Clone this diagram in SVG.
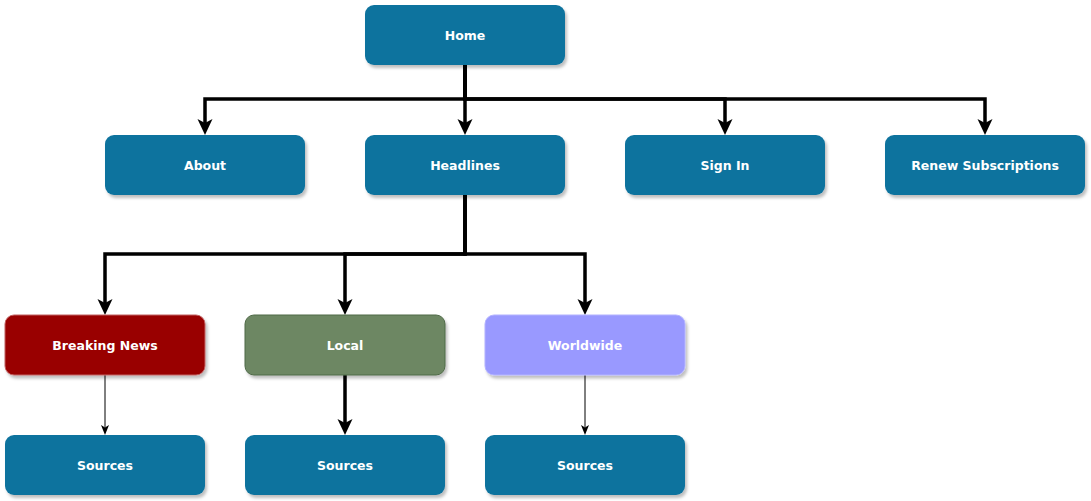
<svg xmlns="http://www.w3.org/2000/svg" width="1091" height="501" viewBox="0 0 1091 501">
<defs>
<filter id="sh" x="-10%" y="-20%" width="130%" height="150%">
<feDropShadow dx="2" dy="3" stdDeviation="1.5" flood-color="#000" flood-opacity="0.25"/>
</filter>
<marker id="ab" viewBox="0 0 16 18" refX="4" refY="9" markerWidth="16" markerHeight="18" orient="auto" markerUnits="userSpaceOnUse">
<path d="M0,1.5 L16,9 L0,16.5 L4,9 Z" fill="#000"/>
</marker>
<marker id="as" viewBox="0 0 10 10" refX="2.5" refY="5" markerWidth="10" markerHeight="10" orient="auto" markerUnits="userSpaceOnUse">
<path d="M0,1 L10,5 L0,9 L2.5,5 Z" fill="#000"/>
</marker>
</defs>
<style>
.n rect{filter:url(#sh);}
.blue{fill:#10739E;}
.t{font-family:"DejaVu Sans",sans-serif;font-weight:bold;font-size:12.5px;fill:#fff;text-anchor:middle;}
.thick{fill:none;stroke:#000;stroke-width:3.5;marker-end:url(#ab);}
.thin{fill:none;stroke:#000;stroke-width:1;marker-end:url(#as);}
</style>
<rect width="1091" height="501" fill="#fff"/>
<g id="connectors">
<path class="thick" d="M465,65 V99 H205 V123"/>
<path class="thick" d="M465,65 V123"/>
<path class="thick" d="M465,65 V99 H725 V123"/>
<path class="thick" d="M465,65 V99 H985 V123"/>
<path class="thick" d="M465,195 V254 H105 V303"/>
<path class="thick" d="M465,195 V254 H345 V303"/>
<path class="thick" d="M465,195 V254 H585 V303"/>
<path class="thin" d="M105,375 V427.5"/>
<path class="thick" d="M345,375 V423"/>
<path class="thin" d="M585,375 V427.5"/>
</g>
<g id="home" class="n"><rect x="365" y="5" width="200" height="60" rx="9" class="blue"/><text class="t" x="465" y="39.5">Home</text></g>
<g id="about" class="n"><rect x="105" y="135" width="200" height="60" rx="9" class="blue"/><text class="t" x="205" y="169.5">About</text></g>
<g id="headlines" class="n"><rect x="365" y="135" width="200" height="60" rx="9" class="blue"/><text class="t" x="465" y="169.5">Headlines</text></g>
<g id="signin" class="n"><rect x="625" y="135" width="200" height="60" rx="9" class="blue"/><text class="t" x="725" y="169.5">Sign In</text></g>
<g id="renew" class="n"><rect x="885" y="135" width="200" height="60" rx="9" class="blue"/><text class="t" x="985" y="169.5">Renew Subscriptions</text></g>
<g id="breaking" class="n"><rect x="5" y="315" width="200" height="60" rx="9" fill="#990000" stroke="#c06060" stroke-width="1"/><text class="t" x="105" y="349.5">Breaking News</text></g>
<g id="local" class="n"><rect x="245" y="315" width="200" height="60" rx="9" fill="#6D8764" stroke="#4f6a47" stroke-width="1"/><text class="t" x="345" y="349.5">Local</text></g>
<g id="worldwide" class="n"><rect x="485" y="315" width="200" height="60" rx="9" fill="#9999FF" stroke="#b3b3ff" stroke-width="1"/><text class="t" x="585" y="349.5">Worldwide</text></g>
<g id="sources1" class="n"><rect x="5" y="435" width="200" height="60" rx="9" class="blue"/><text class="t" x="105" y="469.5">Sources</text></g>
<g id="sources2" class="n"><rect x="245" y="435" width="200" height="60" rx="9" class="blue"/><text class="t" x="345" y="469.5">Sources</text></g>
<g id="sources3" class="n"><rect x="485" y="435" width="200" height="60" rx="9" class="blue"/><text class="t" x="585" y="469.5">Sources</text></g>
</svg>
